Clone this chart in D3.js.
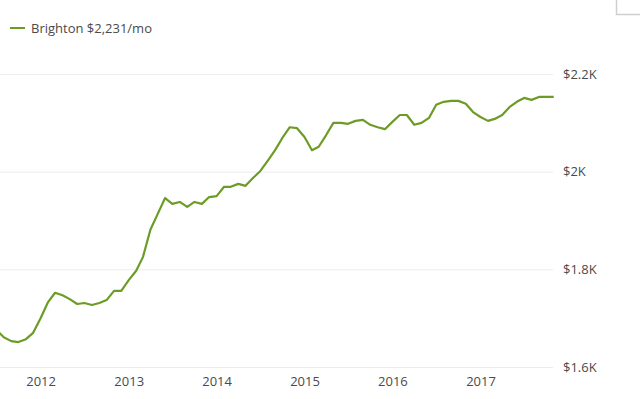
<!DOCTYPE html>
<html>
<head>
<meta charset="utf-8">
<script src="https://cdn.jsdelivr.net/npm/d3@7"></script>
<style>
  body { margin: 0; background: #fff; }
  svg { display: block; font-family: "Open Sans", sans-serif; }
</style>
</head>
<body>
<div id="chart"></div>
<script>
// monthly rent, Jul 2011 .. Nov 2017
var startMonth = "2011-07";
var rents = [
  1676, 1661, 1653, 1651, 1657, 1670, 1700, 1733, 1752, 1747, 1739, 1729,
  1731, 1727, 1731, 1737, 1756, 1756, 1778, 1797, 1825, 1881, 1913, 1946,
  1934, 1938, 1928, 1938, 1934, 1948, 1950, 1969, 1969, 1975, 1971, 1987,
  2001, 2022, 2044, 2069, 2091, 2089, 2071, 2044, 2051, 2075, 2100, 2100,
  2098, 2104, 2106, 2096, 2091, 2087, 2102, 2116, 2116, 2096, 2100, 2110,
  2137, 2143, 2145, 2145, 2139, 2122, 2112, 2104, 2108, 2116, 2132, 2143,
  2151, 2147, 2153, 2153, 2153
];
var yTicks = [1600, 1800, 2000, 2200];
var yTickLabels = ["$1.6K", "$1.8K", "$2K", "$2.2K"];
var xTickYears = [2012, 2013, 2014, 2015, 2016, 2017];
var seriesName = "Brighton $2,231/mo";

var width = 640, height = 399;
var plotRight = 553;
var lineColor = "#6c9c26";
var textColor = "#4a4a4a";

var parseMonth = d3.timeParse("%Y-%m");
var t0 = parseMonth(startMonth);
var data = rents.map(function(v, i) {
  return { date: d3.timeMonth.offset(t0, i), value: v };
});

var svg = d3.select("#chart").append("svg")
  .attr("width", width)
  .attr("height", height);

// x: first month sits just left of the frame, clipped
var x = d3.scaleTime()
  .domain([t0, data[data.length - 1].date])
  .range([-3.7, 553.7]);

var y = d3.scaleLinear()
  .domain([1600, 2200])
  .range([367, 74]);

// grid lines
svg.append("g").selectAll("line")
  .data(yTicks)
  .enter().append("line")
  .attr("x1", 0)
  .attr("x2", plotRight)
  .attr("y1", function(d) { return y(d) + 0.5; })
  .attr("y2", function(d) { return y(d) + 0.5; })
  .style("stroke", "#ececec")
  .style("stroke-width", "1px");

// right axis labels
var yAxis = d3.axisRight(y)
  .tickValues(yTicks)
  .tickSize(0)
  .tickPadding(0)
  .tickFormat(function(d, i) { return yTickLabels[i]; });

var gy = svg.append("g")
  .attr("transform", "translate(563,0)")
  .call(yAxis);
gy.select(".domain").remove();
gy.selectAll("text")
  .style("font-family", "'Open Sans', sans-serif")
  .style("font-size", "13px")
  .style("fill", textColor);

// bottom axis labels
var xAxis = d3.axisBottom(x)
  .tickValues(xTickYears.map(function(yr) { return new Date(yr, 0, 1); }))
  .tickSize(0)
  .tickPadding(0)
  .tickFormat(d3.timeFormat("%Y"));

var gx = svg.append("g")
  .attr("transform", "translate(0,377)")
  .call(xAxis);
gx.select(".domain").remove();
gx.selectAll("text")
  .style("font-family", "'Open Sans', sans-serif")
  .style("font-size", "13px")
  .style("fill", textColor);

// clip the line to the plot frame
svg.append("clipPath")
  .attr("id", "plot-clip")
  .append("rect")
  .attr("x", 0).attr("y", 0)
  .attr("width", plotRight + 2).attr("height", height);

var line = d3.line()
  .x(function(d) { return x(d.date); })
  .y(function(d) { return y(d.value); });

svg.append("path")
  .datum(data)
  .attr("clip-path", "url(#plot-clip)")
  .attr("d", line)
  .style("fill", "none")
  .style("stroke", lineColor)
  .style("stroke-width", "2.2px")
  .style("stroke-linejoin", "round");

// legend
var legend = svg.append("g").attr("transform", "translate(10,28)");
legend.append("line")
  .attr("x1", 0).attr("x2", 15)
  .style("stroke", lineColor)
  .style("stroke-width", "2px");
legend.append("text")
  .attr("x", 21)
  .attr("dy", "0.35em")
  .style("font-size", "13px")
  .style("fill", textColor)
  .text(seriesName);

// corner frame mark, top right
svg.append("path")
  .attr("d", "M616.5,0V14.5H640")
  .style("fill", "none")
  .style("stroke", "#cfcfcf")
  .style("stroke-width", "1.5px");
</script>
</body>
</html>
